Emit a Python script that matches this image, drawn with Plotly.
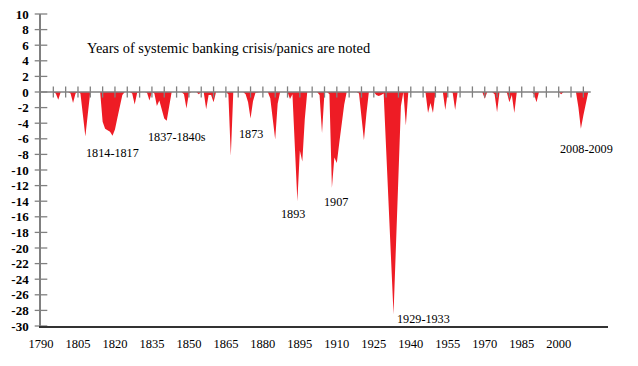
import plotly.graph_objects as go

# ---------------- data ----------------
years = list(range(1790, 2014))
depth = [
    # 1790s
    0, 0, 0, 0, 0, 0, -0.2, -1.0, 0, 0,
    # 1800s
    0, 0, -0.2, -1.4, -0.2, 0, -0.2, -2.9, -5.7, -2.8,
    # 1810s
    0, 0, 0, 0, 0, -3.8, -4.7, -4.9, -5.1, -5.6,
    # 1820s
    -4.8, -3.3, -1.8, -0.4, 0, 0, 0, -0.2, -1.6, -0.1,
    # 1830s
    0, 0, 0, -0.1, -1.1, 0, -0.2, -1.8, -1.1, -2.2,
    # 1840s
    -3.4, -3.7, -1.8, 0, 0, 0, 0, 0, -0.3, -2.1,
    # 1850s
    -0.2, 0, 0, 0, -0.3, 0, 0, -2.2, -0.4, -0.4,
    # 1860s
    -1.3, 0, 0, 0, 0, 0, -0.3, -8.2, 0, 0,
    # 1870s
    0, 0, 0, -0.3, -1.3, -3.4, -1.2, -0.1, 0, 0,
    # 1880s
    0, 0, 0, -0.8, -3.3, -6.1, -1.5, 0, 0, 0,
    # 1890s
    0, -0.9, -0.3, -7.2, -14.0, -7.5, -8.9, -3.5, 0, 0,
    # 1900s
    0, 0, 0, -0.4, -5.3, 0, 0, -0.3, -12.3, -8.4,
    # 1910s
    -9.1, -6.5, -3.9, -1.6, 0, 0, 0, 0, 0, -0.2,
    # 1920s
    -3.2, -6.2, -2.8, 0, 0, 0, -0.4, -0.5, -0.4, -0.2,
    # 1930s
    -7.3, -14.4, -21.5, -28.5, -19.6, -10.7, -1.8, 0, -4.3, 0,
    # 1940s
    0, 0, 0, 0, 0, 0, -0.1, -2.7, -1.4, -2.7,
    # 1950s
    0, 0, 0, 0, -2.3, 0, 0, -0.1, -2.3, 0,
    # 1960s
    0, 0, 0, 0, 0, 0, 0, 0, 0, 0,
    # 1970s
    -0.85, 0, 0, 0, -0.3, -2.6, 0, 0, 0, -0.1,
    # 1980s
    -1.3, -0.4, -2.7, 0, 0, 0, 0, 0, 0, 0,
    # 1990s
    -0.3, -1.3, 0, 0, 0, 0, 0, 0, 0, 0,
    # 2000s
    0, -0.3, 0, 0, 0, 0, 0, 0, -2.0, -4.7,
    # 2010s
    -3.0, -1.4, 0, 0,
]

x_tick_vals = list(range(1790, 2001, 15))
y_tick_vals = list(range(-30, 11, 2))
y_tick_text = ["<b>%d</b>" % v for v in y_tick_vals]   # hyphen-minus as in source
zero_axis_ticks = list(range(1795, 2011, 5))

title_text = "Years of systemic banking crisis/panics are noted"
crisis_labels = ["1814-1817", "1837-1840s", "1873", "1893", "1907", "1929-1933", "2008-2009"]
crisis_label_x = [1819.0, 1845.0, 1875.3, 1892.2, 1909.5, 1945.2, 2011.1]
crisis_label_y = [-7.76, -5.83, -5.38, -15.6, -14.1, -29.1, -7.37]

RED = "#EE1C25"
GRAY = "#808080"
SERIF = "Liberation Serif, Times New Roman, serif"

fig = go.Figure()

fig.add_trace(go.Scatter(
    x=years, y=depth, mode="lines", fill="tozeroy",
    fillcolor=RED, line=dict(color=RED, width=0),
    hoverinfo="skip", showlegend=False,
))

# zero axis line with crossing ticks
fig.add_shape(type="line", xref="x", yref="y", x0=years[0], x1=years[-1], y0=0, y1=0,
              line=dict(color=GRAY, width=1.5), layer="above")
fig.add_trace(go.Scatter(
    x=zero_axis_ticks, y=[0] * len(zero_axis_ticks), mode="markers",
    marker=dict(symbol="line-ns", size=8, line=dict(color=GRAY, width=1.3)),
    hoverinfo="skip", showlegend=False, cliponaxis=False,
))
# y axis crossing ticks
fig.add_trace(go.Scatter(
    x=[x_tick_vals[0]] * len(y_tick_vals), y=y_tick_vals, mode="markers",
    marker=dict(symbol="line-ew", size=9, line=dict(color=GRAY, width=1.3)),
    hoverinfo="skip", showlegend=False, cliponaxis=False,
))

fig.add_annotation(x=1808.0, y=5.7, xref="x", yref="y", text=title_text,
                   showarrow=False, xanchor="left", yanchor="middle",
                   font=dict(family=SERIF, size=14.4, color="black"))
for t, lx, ly in zip(crisis_labels, crisis_label_x, crisis_label_y):
    fig.add_annotation(x=lx, y=ly, xref="x", yref="y", text=t, showarrow=False,
                       xanchor="center", yanchor="middle",
                       font=dict(family=SERIF, size=12.2, color="black"))

# the page body adds an 8 px offset, so the figure is 8 px smaller and margins reduced
fig.update_layout(
    width=630, height=358,
    margin=dict(l=33, r=30, t=6, b=40, autoexpand=False),
    paper_bgcolor="white", plot_bgcolor="white",
    showlegend=False,
    xaxis=dict(range=[1790, 2020], showgrid=False, zeroline=False, automargin=False,
               showline=True, linecolor="#333333", linewidth=1.5,
               tickmode="array", tickvals=x_tick_vals, ticks="",
               ticklabelstandoff=5, ticklabeloverflow="allow",
               tickfont=dict(family=SERIF, size=12.5, color="black")),
    yaxis=dict(range=[-30, 10], showgrid=False, zeroline=False, automargin=False,
               showline=True, linecolor=GRAY, linewidth=1.5,
               tickmode="array", tickvals=y_tick_vals, ticktext=y_tick_text,
               ticks="", ticklabelstandoff=8, ticklabeloverflow="allow",
               tickfont=dict(family=SERIF, size=13, color="black")),
)

fig.write_html("out.html")
